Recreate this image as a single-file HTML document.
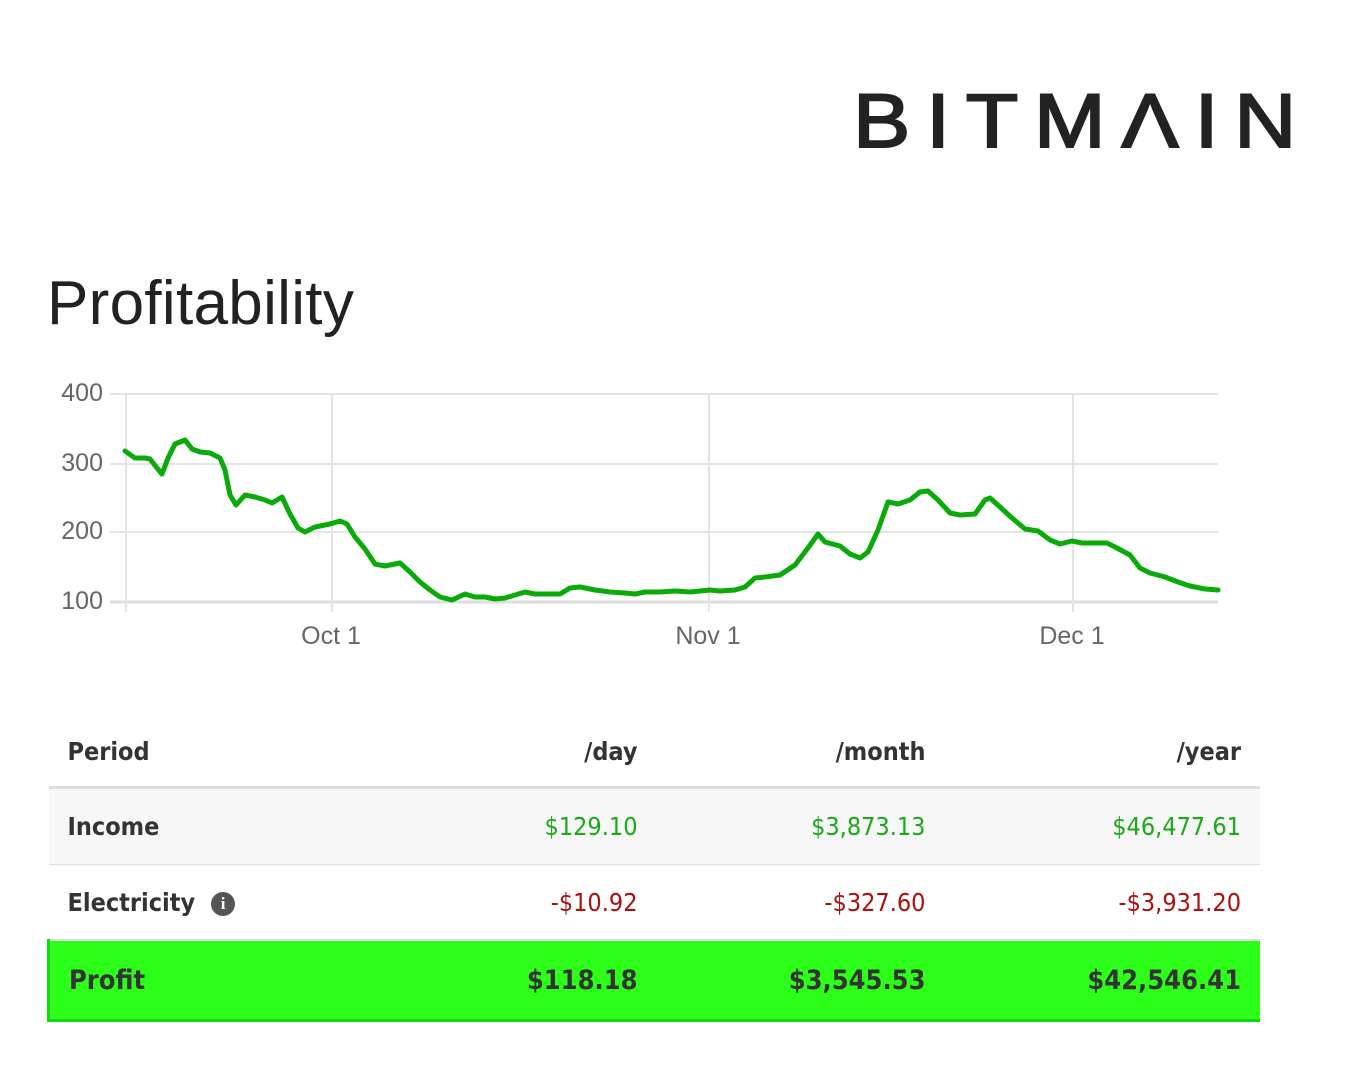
<!DOCTYPE html>
<html><head><meta charset="utf-8"><style>
body{margin:0;width:1371px;height:1080px;background:#fff;position:relative;font-family:"Liberation Sans",sans-serif;overflow:hidden}
.logo{position:absolute;left:853px;top:78px;font-size:76px;letter-spacing:14px;color:#222;font-weight:normal;transform:scaleX(1.13);transform-origin:left top;-webkit-text-stroke:2px #222}
h1{position:absolute;left:47px;top:268px;margin:0;font-weight:normal;font-size:62px;color:#222;letter-spacing:0.3px}
svg{position:absolute;left:0;top:0}
table{position:absolute;left:47px;top:716px;width:1213px;border-collapse:collapse;font-family:"DejaVu Sans Condensed","DejaVu Sans",sans-serif;font-size:25px;table-layout:fixed}
td,th{padding:0 19px;text-align:right}
td:first-child,th:first-child{text-align:left}
th{height:70px;color:#333;font-weight:bold;border-bottom:3px solid #ddd}
tr.inc td{height:75px;background:#f7f7f7;border-bottom:1px solid #ddd}
tr.ele td{height:74px;border-bottom:2px solid #ddd}
tr.pro td{height:78px;background:#2eff1a;font-weight:bold;color:#333;font-size:27px;border-bottom:3px solid #16d80f}
tr.pro td:first-child{border-left:3px solid #16d80f}
.g{color:#1aaa1a}.r{color:#aa1111}
b{color:#333}
.info{display:inline-block;width:24px;height:24px;border-radius:50%;background:#555;color:#fff;font-size:17px;text-align:center;line-height:24px;margin-left:16px;vertical-align:2px;font-family:"Liberation Serif",serif;font-weight:bold}
</style></head><body>
<div class="logo">BITMΛIN</div>
<h1>Profitability</h1>
<svg width="1371" height="680">
<g stroke="#e4e4e4" stroke-width="2">
<line x1="110" y1="394" x2="1218" y2="394"/><line x1="110" y1="464" x2="1218" y2="464"/><line x1="110" y1="532" x2="1218" y2="532"/><line x1="110" y1="602" x2="1218" y2="602" stroke="#ddd" stroke-width="3"/>
<line x1="126" y1="394" x2="126" y2="612"/><line x1="332" y1="394" x2="332" y2="612"/><line x1="709" y1="394" x2="709" y2="612"/><line x1="1073" y1="394" x2="1073" y2="612"/>
</g>
<g fill="#666" font-size="25" text-anchor="end">
<text x="103" y="401">400</text><text x="103" y="471">300</text><text x="103" y="539">200</text><text x="103" y="609">100</text>
</g>
<g fill="#666" font-size="25" text-anchor="middle">
<text x="331" y="644">Oct 1</text><text x="708" y="644">Nov 1</text><text x="1072" y="644">Dec 1</text>
</g>
<polyline fill="none" stroke="#0aaa0a" stroke-width="5" stroke-linejoin="round" stroke-linecap="round" points="125,451 135,458 145,458 150,459 157,468 162,474 168,458 175,444 185,440 192,449 200,452 210,453 220,458 225,470 230,495 236,505 245,495 255,497 265,500 272,503 282,497 290,514 298,528 305,532 315,527 330,524 340,521 347,524 355,537 365,549 375,564 385,566 400,563 410,572 420,582 430,590 440,597 452,600 465,594 475,597 485,597 495,599 505,598 515,595 525,592 535,594 550,594 560,594 570,588 580,587 595,590 610,592 625,593 635,594 645,592 660,592 675,591 690,592 700,591 710,590 720,591 735,590 745,587 755,578 765,577 780,575 795,565 808,548 818,534 825,542 840,546 850,554 860,558 868,552 878,530 888,502 898,504 910,500 920,492 928,491 938,500 950,513 960,515 975,514 985,500 990,498 1000,507 1012,518 1025,529 1038,531 1050,540 1060,544 1072,541 1082,543 1095,543 1107,543 1117,548 1130,555 1140,568 1150,573 1165,577 1178,582 1190,586 1205,589 1218,590"/>
</svg>
<table>
<colgroup><col style="width:370px"><col style="width:238px"><col style="width:288px"><col></colgroup>
<tr><th>Period</th><th>/day</th><th>/month</th><th>/year</th></tr>
<tr class="inc"><td><b>Income</b></td><td class="g">$129.10</td><td class="g">$3,873.13</td><td class="g">$46,477.61</td></tr>
<tr class="ele"><td><b>Electricity</b><span class="info">i</span></td><td class="r">-$10.92</td><td class="r">-$327.60</td><td class="r">-$3,931.20</td></tr>
<tr class="pro"><td>Profit</td><td>$118.18</td><td>$3,545.53</td><td>$42,546.41</td></tr>
</table>
</body></html>
